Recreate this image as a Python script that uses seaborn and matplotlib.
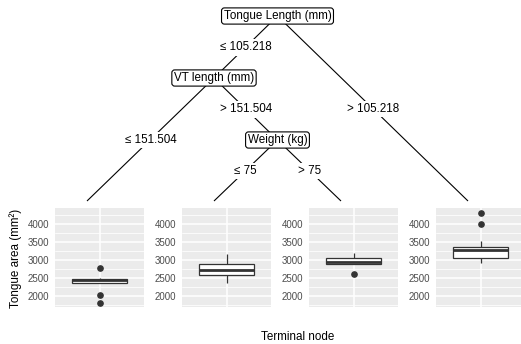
import numpy as np
import pandas as pd
import matplotlib
matplotlib.use("Agg")
import matplotlib.pyplot as plt
from matplotlib.ticker import FixedLocator
import seaborn as sns

# ---- data -------------------------------------------------------------
node_a = [1816, 2020, 2345, 2345, 2380, 2410, 2430, 2445, 2460, 2474, 2480, 2500, 2764]
node_b = [2363, 2500, 2569, 2650, 2709, 2780, 2876, 2950, 3155]
node_c = [2614, 2880, 2893, 2910, 2940, 3000, 3060, 3120, 3200]
node_d = [2900, 2990, 3030, 3060, 3150, 3230, 3275, 3310, 3340, 3367, 3535, 4008, 4315]
terminal_ids = [3, 5, 6, 7]
terminal_data = [node_a, node_b, node_c, node_d]
y_ticks = [2000, 2500, 3000, 3500, 4000]

inner_ids = [1, 2, 4]
inner_labels = ["Tongue Length (mm)", "VT length (mm)", "Weight (kg)"]
edge_parent = [1, 2, 2, 4, 4, 1]
edge_child = [2, 3, 4, 5, 6, 7]
edge_label = ["\u2264 105.218", "\u2264 151.504", "> 151.504", "\u2264 75", "> 75", "> 105.218"]

y_title = "Tongue area (mm\u00b2)"
x_title = "Terminal node"

# ---- style ------------------------------------------------------------
sns.set_theme(style="white")
plt.rcParams["font.family"] = ["Liberation Sans", "DejaVu Sans"]

W, H = 521, 344
fig = plt.figure(figsize=(W / 100, H / 100), dpi=100)

# overlay axes in pixel coordinates for the tree
tree_ax = fig.add_axes([0, 0, 1, 1], zorder=0)
tree_ax.set_xlim(0, W)
tree_ax.set_ylim(H, 0)
tree_ax.axis("off")
tree_ax.patch.set_alpha(0)

panel_left0, panel_step, panel_w = 55, 127, 89
panel_top, panel_bottom = 208, 307
anchor_off = 32

parent_of = dict(zip(edge_child, edge_parent))
children = {}
for p, c in zip(edge_parent, edge_child):
    children.setdefault(p, []).append(c)

def depth(n):
    d = 0
    while n in parent_of:
        n = parent_of[n]
        d += 1
    return d

def leaves(n):
    if n in terminal_ids:
        return [n]
    out = []
    for c in children[n]:
        out += leaves(c)
    return out

pos = {}
for i, t in enumerate(terminal_ids):
    pos[t] = (panel_left0 + panel_step * i + anchor_off, 201)
for n in inner_ids:
    xs = [pos[l][0] for l in leaves(n)]
    pos[n] = (float(np.mean(xs)), 16 + 62 * depth(n))

tree_fs = 8.4
lw_line = 0.8
for p, c, lab in zip(edge_parent, edge_child, edge_label):
    x0, y0 = pos[p]
    x1, y1 = pos[c]
    tree_ax.plot([x0, x1], [y0, y1], color="black", lw=lw_line, zorder=1,
                 solid_capstyle="butt")
    tree_ax.text((x0 + x1) / 2, (y0 + y1) / 2 + 0.5, lab, ha="center", va="center",
                 fontsize=tree_fs, color="black", zorder=3,
                 bbox=dict(boxstyle="square,pad=0.2", fc="white", ec="none"))

for n, lab in zip(inner_ids, inner_labels):
    x, y = pos[n]
    tree_ax.text(x, y, lab, ha="center", va="center", fontsize=tree_fs, color="black",
                 zorder=4,
                 bbox=dict(boxstyle="round,pad=0.18,rounding_size=0.25",
                           fc="white", ec="black", lw=0.8))

# ---- terminal boxplots -----------------------------------------------
all_vals = np.concatenate([np.array(v) for v in terminal_data])
lo, hi = all_vals.min(), all_vals.max()
span = hi - lo
ylim = (lo - 0.05 * span, hi + 0.05 * span)
minor = [(a + b) / 2 for a, b in zip(y_ticks[:-1], y_ticks[1:])]
minor = [y_ticks[0] - 250] + minor + [y_ticks[-1] + 250]

for i, vals in enumerate(terminal_data):
    left = panel_left0 + panel_step * i
    ax = fig.add_axes([left / W, (H - panel_bottom) / H, panel_w / W,
                       (panel_bottom - panel_top) / H], zorder=2)
    df = pd.DataFrame({"area": vals})
    sns.boxplot(data=df, y="area", ax=ax, width=0.75, color="white",
                saturation=1, linecolor="#333333", linewidth=0.9,
                fliersize=3.8, showcaps=False,
                flierprops=dict(marker="o", markerfacecolor="#333333",
                                markeredgecolor="#333333"),
                medianprops=dict(linewidth=2.0, color="#333333"))
    ax.set_facecolor("#EBEBEB")
    for s in ax.spines.values():
        s.set_visible(False)
    ax.set_xlim(-0.6, 0.6)
    ax.set_ylim(*ylim)
    ax.set_yticks(y_ticks)
    ax.yaxis.set_minor_locator(FixedLocator(minor))
    ax.set_xticks([0])
    ax.set_xticklabels([""])
    ax.set_xlabel("")
    ax.set_ylabel("")
    ax.set_axisbelow(True)
    ax.grid(which="major", color="white", lw=1.1)
    ax.grid(which="minor", axis="y", color="white", lw=0.55)
    ax.tick_params(axis="both", which="major", length=2.7, width=0.6,
                   color="#333333", labelcolor="#4D4D4D", labelsize=7.0, pad=1.5)
    ax.tick_params(axis="y", which="minor", length=0)

fig.text(16 / W, 1 - 258 / H, y_title, rotation=90, ha="center", va="center",
         fontsize=8.4, color="black")
fig.text(298 / W, 1 - 337 / H, x_title, ha="center", va="center",
         fontsize=8.4, color="black")

fig.savefig("out.png", dpi=100)
